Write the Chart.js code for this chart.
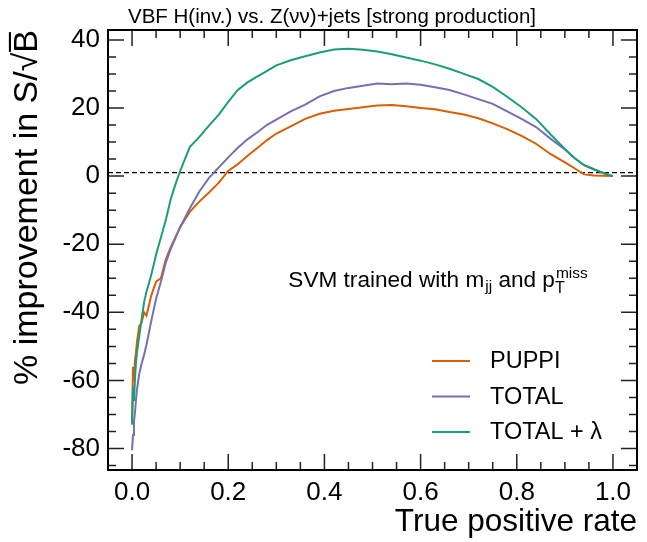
<!DOCTYPE html>
<html>
<head>
<meta charset="utf-8">
<script src="https://cdn.jsdelivr.net/npm/chart.js@4.4.1/dist/chart.umd.min.js"></script>
<style>
  body { margin: 0; background: #fff; }
  #wrap { width: 647px; height: 542px; }
</style>
</head>
<body>
<div id="wrap"><canvas id="roc" width="647" height="542"></canvas></div>
<script>
// true positive rate (x) shared by all three curves
const tpr = [0, 0.002, 0.004, 0.006, 0.008, 0.01, 0.015, 0.02, 0.025, 0.03,
    0.04, 0.05, 0.06, 0.07, 0.08, 0.09, 0.10, 0.12, 0.14, 0.16,
    0.18, 0.20, 0.22, 0.24, 0.26, 0.28, 0.30, 0.33, 0.36, 0.39,
    0.42, 0.45, 0.48, 0.51, 0.54, 0.57, 0.60, 0.63, 0.66, 0.69,
    0.72, 0.75, 0.78, 0.81, 0.84, 0.87, 0.90, 0.92, 0.94, 0.96, 0.98, 1.0];

// % improvement in S/sqrt(B)
const puppi = [-72, -56, -60, -54, -52, -49, -44, -43, -40, -41,
    -35, -31, -30, -24.5, -21, -18, -15, -10.5, -7.5, -4.8,
    -2, 1.5, 3.5, 6, 8.2, 10.5, 12.5, 14.6, 16.8, 18.3,
    19.2, 19.7, 20.2, 20.7, 20.9, 20.5, 20, 19.6, 18.8, 18.1,
    17, 15.5, 13.8, 11.8, 9.5, 6.5, 4, 2.3, 0.5, 0.2, 0.1, 0];
const total = [-80.5, -76, -72, -69.5, -66, -63, -58, -55, -52.5, -49.5,
    -42.5, -36, -31, -25.5, -21.5, -18.3, -15, -9.5, -4.5, -0.5,
    2.5, 5.5, 8.3, 10.8, 12.8, 15, 16.6, 19, 21, 23.4,
    25, 25.9, 26.5, 27.2, 27, 27.2, 26.8, 26.1, 25.3, 24,
    22.6, 21.2, 19, 16.8, 14.4, 11, 7.8, 5.3, 3.2, 2.0, 0.9, 0];
const totalLambda = [-73, -62, -66, -60, -55, -52, -47, -42, -37, -34,
    -29, -23, -18, -13, -7, -2.5, 1.5, 8.5, 11.5, 14.8,
    18, 21.8, 25.3, 27.5, 29.2, 30.8, 32.5, 34, 35.2, 36.3,
    37.2, 37.4, 37.1, 36.6, 35.8, 34.8, 33.9, 32.8, 31.5, 30,
    28.5, 26.2, 23.3, 20.2, 16.8, 12.3, 8, 5.3, 3.2, 2.0, 0.9, 0];

const seriesNames = ['PUPPI', 'TOTAL', 'TOTAL + \u03bb'];
const seriesColors = ['#d95f02', '#7570b3', '#1b9e77'];

const xTicks = [0, 0.2, 0.4, 0.6, 0.8, 1.0];
const yTicks = [-80, -60, -40, -20, 0, 20, 40];
const refLevel = 1;

const FONT = '"Liberation Sans", Arial, Helvetica, sans-serif';

function toPoints(ys) {
    return tpr.map((x, i) => ({ x: x, y: ys[i] }));
}

// dashed reference line, drawn under the curves
const refLine = {
    id: 'refLine',
    beforeDatasetsDraw(chart) {
        const { ctx, chartArea: a, scales: { y } } = chart;
        const yp = y.getPixelForValue(refLevel);
        ctx.save();
        ctx.strokeStyle = '#000';
        ctx.lineWidth = 1.2;
        ctx.setLineDash([5, 3]);
        ctx.beginPath();
        ctx.moveTo(a.left, yp);
        ctx.lineTo(a.right, yp);
        ctx.stroke();
        ctx.restore();
    }
};

// frame with inward ticks on all four sides, plus title, legend and annotation
const decorations = {
    id: 'decorations',
    afterDraw(chart) {
        const { ctx, chartArea: a, scales: { x, y } } = chart;
        ctx.save();

        ctx.strokeStyle = '#222';
        ctx.lineWidth = 1.5;
        ctx.beginPath();
        for (let i = 0; i <= 20; i++) {
            const xp = x.getPixelForValue(i * 0.05);
            const len = i % 4 === 0 ? 16 : 8;
            ctx.moveTo(xp, a.bottom); ctx.lineTo(xp, a.bottom - len);
            ctx.moveTo(xp, a.top); ctx.lineTo(xp, a.top + len);
        }
        for (let v = -85; v <= 40; v += 5) {
            const yp = y.getPixelForValue(v);
            const len = v % 20 === 0 ? 16 : 8;
            ctx.moveTo(a.left, yp); ctx.lineTo(a.left + len, yp);
            ctx.moveTo(a.right, yp); ctx.lineTo(a.right - len, yp);
        }
        ctx.stroke();

        ctx.strokeStyle = '#000';
        ctx.lineWidth = 2;
        ctx.strokeRect(a.left, a.top, a.right - a.left, a.bottom - a.top);

        // title
        ctx.fillStyle = '#000';
        ctx.font = '20.5px ' + FONT;
        ctx.textAlign = 'center';
        ctx.textBaseline = 'alphabetic';
        ctx.fillText('VBF H(inv.) vs. Z(\u03bd\u03bd)+jets [strong production]', 332, 23);

        // legend
        ctx.textAlign = 'left';
        ctx.textBaseline = 'middle';
        ctx.font = '23.5px ' + FONT;
        chart.data.datasets.forEach((ds, i) => {
            const ly = a.bottom - 109 + i * 35.5;
            ctx.strokeStyle = ds.borderColor;
            ctx.lineWidth = 2;
            ctx.beginPath();
            ctx.moveTo(a.right - 205, ly);
            ctx.lineTo(a.right - 167, ly);
            ctx.stroke();
            ctx.fillText(ds.label, a.right - 147, ly + 1);
        });

        // annotation: SVM trained with m_jj and p_T^miss
        ctx.textBaseline = 'alphabetic';
        let tx = x.getPixelForValue(0.325);
        const ty = y.getPixelForValue(-32.6);
        const big = '22.6px ' + FONT, small = '15.5px ' + FONT;
        ctx.font = big;
        ctx.fillText('SVM trained with m', tx, ty);
        tx += ctx.measureText('SVM trained with m').width;
        ctx.font = small;
        ctx.fillText('jj', tx + 1, ty + 4);
        tx += ctx.measureText('jj').width + 1;
        ctx.font = big;
        ctx.fillText(' and p', tx, ty);
        tx += ctx.measureText(' and p').width;
        ctx.font = '16px ' + FONT;
        ctx.fillText('T', tx, ty + 6);
        ctx.font = small;
        ctx.fillText('miss', tx + 1, ty - 9);

        ctx.restore();
    }
};

new Chart(document.getElementById('roc'), {
    type: 'line',
    data: {
        datasets: [
            { label: seriesNames[0], data: toPoints(puppi), borderColor: seriesColors[0], order: 2 },
            { label: seriesNames[1], data: toPoints(total), borderColor: seriesColors[1], order: 1 },
            { label: seriesNames[2], data: toPoints(totalLambda), borderColor: seriesColors[2], order: 0 }
        ]
    },
    options: {
        responsive: false,
        animation: false,
        layout: { padding: { top: 30, right: 10, left: 0, bottom: 0 } },
        elements: {
            line: { borderWidth: 2, tension: 0 },
            point: { radius: 0 }
        },
        plugins: {
            legend: { display: false },
            title: { display: false },
            tooltip: { enabled: false }
        },
        scales: {
            x: {
                type: 'linear',
                min: -0.05,
                max: 1.05,
                afterBuildTicks: s => { s.ticks = xTicks.map(v => ({ value: v })); },
                afterFit: s => { s.height = 72; },
                grid: { display: false, drawTicks: false },
                border: { display: false },
                ticks: {
                    color: '#000',
                    padding: 7,
                    maxRotation: 0,
                    font: { family: FONT, size: 26 },
                    callback: v => Number(v).toFixed(1)
                },
                title: {
                    display: true,
                    text: 'True positive rate',
                    align: 'end',
                    color: '#000',
                    font: { family: FONT, size: 31.5 },
                    padding: { top: 0, bottom: 1 }
                }
            },
            y: {
                min: -86.3,
                max: 42.9,
                afterBuildTicks: s => { s.ticks = yTicks.map(v => ({ value: v })); },
                afterFit: s => { s.width = 108; },
                grid: { display: false, drawTicks: false },
                border: { display: false },
                ticks: {
                    color: '#000',
                    padding: 8,
                    font: { family: FONT, size: 26 }
                },
                title: {
                    display: true,
                    text: '% improvement in S/\u221aB\u0305',
                    align: 'end',
                    color: '#000',
                    font: { family: FONT, size: 34 },
                    padding: { top: 7, bottom: 0 }
                }
            }
        }
    },
    plugins: [refLine, decorations]
});
</script>
</body>
</html>
